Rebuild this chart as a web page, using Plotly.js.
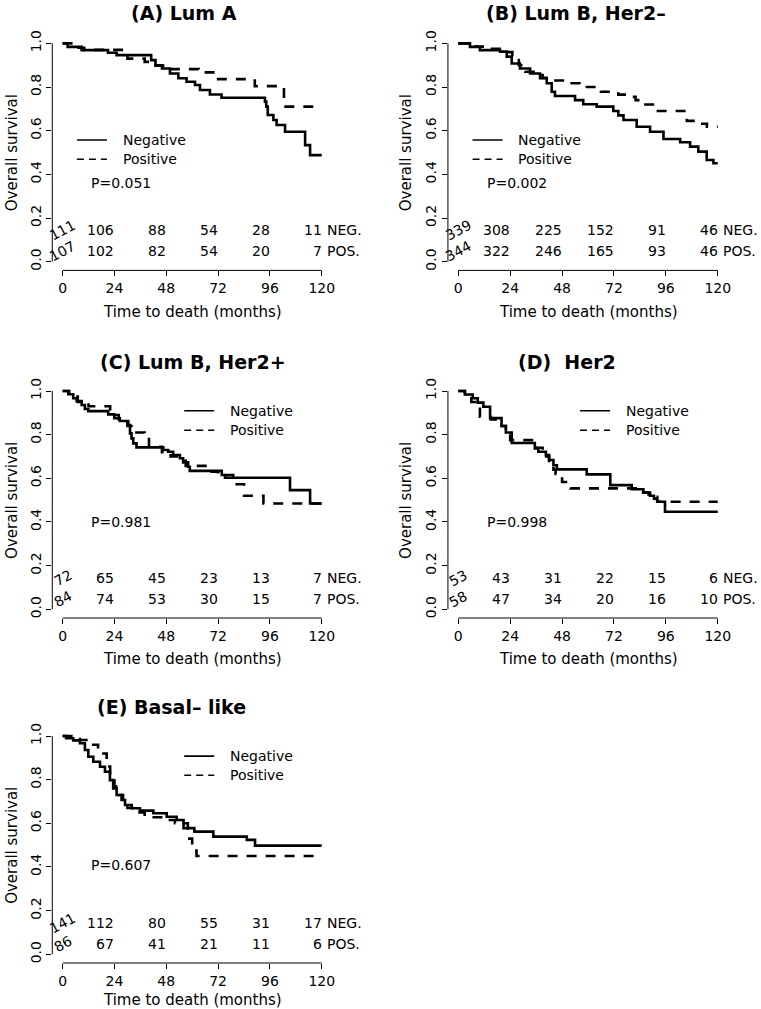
<!DOCTYPE html>
<html><head><meta charset="utf-8">
<script src="https://cdn.plot.ly/plotly-3.0.1.min.js"></script>
<style>body{margin:0;background:#fff}#chart{width:761px;height:1009px}</style>
</head><body><div id="chart"></div>
<script>
// ---------------- DATA ----------------
const riskTimes = [0, 24, 48, 72, 96, 120];
const xTickVals = [0, 24, 48, 72, 96, 120];
const yTickVals = [0, 0.2, 0.4, 0.6, 0.8, 1.0];
const yTickText = ["0.0", "0.2", "0.4", "0.6", "0.8", "1.0"];
const panelTitles = ["(A) Lum A", "(B) Lum B, Her2–", "(C) Lum B, Her2+", "(D)  Her2", "(E) Basal– like"];
const pValues = ["P=0.051", "P=0.002", "P=0.981", "P=0.998", "P=0.607"];
const seriesNames = ["Negative", "Positive"];
const riskLabels = ["NEG.", "POS."];
const xTitle = "Time to death (months)";
const yTitle = "Overall survival";

// (A) Lum A
const lumA_negT = [0, 2.3, 8.8, 21, 25, 41, 43, 46, 49.7, 53.6, 57.4, 61.3, 63.6, 68.2, 73.6, 93.7, 94.3, 95, 97.6, 99.1, 103, 112.3, 114.6, 120];
const lumA_negS = [1, 0.984, 0.969, 0.957, 0.946, 0.923, 0.90, 0.885, 0.862, 0.84, 0.824, 0.809, 0.786, 0.766, 0.751, 0.733, 0.71, 0.672, 0.649, 0.626, 0.595, 0.534, 0.488, 0.488];
const lumA_posT = [0, 4, 10, 28, 30, 38, 42, 50, 63, 71, 89, 102.5, 120];
const lumA_posS = [1, 0.98, 0.97, 0.95, 0.93, 0.915, 0.898, 0.882, 0.867, 0.836, 0.804, 0.71, 0.71];
const lumA_riskNeg = [111, 106, 88, 54, 28, 11];
const lumA_riskPos = [107, 102, 82, 54, 20, 7];

// (B) Lum B, Her2-
const lumBneg_negT = [0, 5.4, 10, 19.3, 22.4, 24.7, 28.5, 33.2, 37.8, 40.9, 43.2, 44.7, 54, 57.8, 64, 71.7, 74, 76.4, 82.5, 88.7, 94.9, 102.6, 107.2, 111, 114.9, 118, 120];
const lumBneg_negS = [1, 0.984, 0.969, 0.962, 0.939, 0.908, 0.885, 0.862, 0.84, 0.817, 0.778, 0.759, 0.740, 0.721, 0.71, 0.69, 0.67, 0.649, 0.618, 0.595, 0.562, 0.547, 0.527, 0.504, 0.466, 0.451, 0.451];
const lumBneg_posT = [0, 8, 15, 20, 25, 28, 31, 36, 39, 44, 49, 56, 66, 74, 78, 82, 85, 90, 105.7, 110, 115, 120];
const lumBneg_posS = [1, 0.985, 0.975, 0.96, 0.93, 0.9, 0.87, 0.855, 0.842, 0.83, 0.817, 0.80, 0.778, 0.765, 0.755, 0.74, 0.72, 0.69, 0.645, 0.632, 0.618, 0.618];
const lumBneg_riskNeg = [339, 308, 225, 152, 91, 46];
const lumBneg_riskPos = [344, 322, 246, 165, 93, 46];

// (C) Lum B, Her2+
const lumBpos_negT = [0, 2.6, 4.9, 6.5, 8.8, 10.3, 11.9, 21.1, 23.9, 26.5, 30.4, 31.2, 31.9, 32.7, 34.2, 46.6, 48.9, 51.2, 54.3, 55.8, 58.1, 58.9, 73.7, 75.2, 105.3, 114.6, 120];
const lumBpos_negS = [1, 0.985, 0.967, 0.954, 0.936, 0.918, 0.908, 0.893, 0.875, 0.863, 0.844, 0.806, 0.783, 0.76, 0.742, 0.730, 0.722, 0.707, 0.692, 0.673, 0.653, 0.634, 0.615, 0.603, 0.546, 0.485, 0.485];
const lumBpos_posT = [0, 3, 7, 12, 22, 26, 30, 33, 38, 40, 46, 50, 54, 57, 69, 72, 79, 84, 93, 120];
const lumBpos_posS = [1, 0.975, 0.95, 0.93, 0.89, 0.87, 0.84, 0.81, 0.78, 0.745, 0.72, 0.70, 0.68, 0.657, 0.63, 0.615, 0.573, 0.52, 0.485, 0.485];
const lumBpos_riskNeg = [72, 65, 45, 23, 13, 7];
const lumBpos_riskPos = [84, 74, 53, 30, 15, 7];

// (D) Her2
const her2_negT = [0, 3.1, 6.7, 9, 11.6, 14.7, 20, 22, 24.7, 35.4, 37, 40.5, 42, 44, 45.6, 59.4, 70.3, 80.2, 85.6, 88.7, 90.5, 92, 95.6, 120];
const her2_negS = [1, 0.984, 0.967, 0.947, 0.928, 0.876, 0.84, 0.81, 0.762, 0.737, 0.722, 0.707, 0.684, 0.66, 0.641, 0.618, 0.569, 0.55, 0.535, 0.52, 0.507, 0.493, 0.447, 0.447];
const her2_posT = [0, 3, 6, 10, 15, 20, 22, 24, 36, 39, 42, 44, 45, 48, 52, 84, 88, 92, 120];
const her2_posS = [1, 0.98, 0.95, 0.882, 0.87, 0.84, 0.81, 0.775, 0.74, 0.70, 0.66, 0.64, 0.62, 0.583, 0.554, 0.535, 0.515, 0.493, 0.493];
const her2_riskNeg = [53, 43, 31, 22, 15, 6];
const her2_riskPos = [58, 47, 34, 20, 16, 10];

// (E) Basal-like
const basal_negT = [0, 1.6, 4.9, 8, 10.3, 11.9, 14.2, 17.3, 19.6, 21.9, 23.4, 25, 27.3, 28.9, 32, 35.8, 42, 48.2, 52.8, 56, 61, 69.8, 85.3, 89.1, 120];
const basal_negS = [1, 0.99, 0.98, 0.967, 0.936, 0.905, 0.882, 0.859, 0.836, 0.798, 0.76, 0.73, 0.707, 0.684, 0.669, 0.658, 0.646, 0.630, 0.615, 0.578, 0.562, 0.539, 0.524, 0.498, 0.498];
const basal_posT = [0, 8, 13, 16.4, 20.4, 22, 24, 26, 28, 30, 33, 38, 48, 52, 58, 60, 62, 120];
const basal_posS = [1, 0.982, 0.96, 0.92, 0.86, 0.81, 0.77, 0.73, 0.70, 0.67, 0.65, 0.628, 0.615, 0.60, 0.53, 0.475, 0.45, 0.45];
const basal_riskNeg = [141, 112, 80, 55, 31, 17];
const basal_riskPos = [86, 67, 41, 21, 11, 6];

// ---------------- LAYOUT / STYLE ----------------
const FONT = "DejaVu Sans, Verdana, sans-serif";
const panelData = [
  {negT: lumA_negT, negS: lumA_negS, posT: lumA_posT, posS: lumA_posS, rN: lumA_riskNeg, rP: lumA_riskPos},
  {negT: lumBneg_negT, negS: lumBneg_negS, posT: lumBneg_posT, posS: lumBneg_posS, rN: lumBneg_riskNeg, rP: lumBneg_riskPos},
  {negT: lumBpos_negT, negS: lumBpos_negS, posT: lumBpos_posT, posS: lumBpos_posS, rN: lumBpos_riskNeg, rP: lumBpos_riskPos},
  {negT: her2_negT, negS: her2_negS, posT: her2_posT, posS: her2_posS, rN: her2_riskNeg, rP: her2_riskPos},
  {negT: basal_negT, negS: basal_negS, posT: basal_posT, posS: basal_posS, rN: basal_riskNeg, rP: basal_riskPos}
];
const L = [0.0687, 0.4364], R = [0.5886, 0.9568];
const geo = [
  {xd: L, yd: [0.7320, 0.9657], tx: 0.2414, ty: 0.9876, ylx: 0.0154, xly: 0.6908, pY: 0.36, legL: [6.6, 20.5, 26.9], legY: [0.557, 0.469]},
  {xd: R, yd: [0.7320, 0.9657], tx: 0.7573, ty: 0.9876, ylx: 0.5332, xly: 0.6908, pY: 0.36, legL: [6.6, 20.5, 26.9], legY: [0.557, 0.469]},
  {xd: L, yd: [0.3875, 0.6211], tx: 0.2536, ty: 0.6415, ylx: 0.0154, xly: 0.3469, pY: 0.40, legL: [56.3, 70.2, 76.7], legY: [0.91, 0.82]},
  {xd: R, yd: [0.3875, 0.6211], tx: 0.7447, ty: 0.6415, ylx: 0.5332, xly: 0.3469, pY: 0.40, legL: [56.3, 70.2, 76.7], legY: [0.91, 0.82]},
  {xd: L, yd: [0.0456, 0.2792], tx: 0.2256, ty: 0.2996, ylx: 0.0154, xly: 0.0089, pY: 0.41, legL: [56.3, 70.2, 76.7], legY: [0.908, 0.82]}
];
const CURVE_DASH = "10px,9px";
const LEG_DASH = "7px,5px";

const traces = [];
const annotations = [];
const shapes = [];
const layout = {
  width: 761, height: 1009,
  margin: {l: 0, r: 0, t: 0, b: 0},
  paper_bgcolor: "#ffffff", plot_bgcolor: "#ffffff",
  showlegend: false,
  font: {family: FONT, size: 14, color: "#000"}
};

panelData.forEach((d, i) => {
  const g = geo[i];
  const sfx = i === 0 ? "" : String(i + 1);
  const xa = "x" + sfx, ya = "y" + sfx;
  layout["xaxis" + sfx] = {
    domain: g.xd, anchor: ya, range: [-4.8, 124.8], fixedrange: true,
    tickvals: xTickVals, ticktext: xTickVals.map(String), ticks: "outside", ticklen: 5, tickwidth: 1, tickcolor: "#000",
    showline: false, showgrid: false, zeroline: false,
    tickfont: {family: FONT, size: 14, color: "#000"}
  };
  layout["yaxis" + sfx] = {
    domain: g.yd, anchor: xa, range: [-0.04, 1.04], fixedrange: true,
    tickvals: yTickVals, ticktext: yTickText, tickangle: -90, ticks: "outside", ticklen: 5, tickwidth: 1, tickcolor: "#000",
    showline: false, showgrid: false, zeroline: false,
    tickfont: {family: FONT, size: 14, color: "#000"}
  };
  // curves
  traces.push({x: d.negT, y: d.negS, xaxis: xa, yaxis: ya, type: "scatter", mode: "lines", name: seriesNames[0],
    line: {shape: "hv", color: "#000", width: 2.6}, hoverinfo: "skip"});
  traces.push({x: d.posT, y: d.posS, xaxis: xa, yaxis: ya, type: "scatter", mode: "lines", name: seriesNames[1],
    line: {shape: "hv", color: "#000", width: 2.6, dash: CURVE_DASH}, hoverinfo: "skip"});
  // R-style detached axis lines
  shapes.push({type: "line", xref: xa, yref: ya + " domain", x0: xTickVals[0], x1: xTickVals[xTickVals.length - 1], y0: 0, y1: 0, line: {color: "#000", width: 1}});
  shapes.push({type: "line", xref: xa + " domain", yref: ya, x0: 0, x1: 0, y0: yTickVals[0], y1: yTickVals[yTickVals.length - 1], line: {color: "#000", width: 1}});
  // legend
  shapes.push({type: "line", xref: xa, yref: ya, x0: g.legL[0], x1: g.legL[1], y0: g.legY[0], y1: g.legY[0], line: {color: "#000", width: 1.6}});
  shapes.push({type: "line", xref: xa, yref: ya, x0: g.legL[0], x1: g.legL[1], y0: g.legY[1], y1: g.legY[1], line: {color: "#000", width: 1.6, dash: LEG_DASH}});
  seriesNames.forEach((nm, k) => annotations.push({xref: xa, yref: ya, x: g.legL[2], y: g.legY[k], text: nm, showarrow: false,
    xanchor: "left", yanchor: "middle", font: {family: FONT, size: 14, color: "#000"}}));
  // p-value
  annotations.push({xref: xa, yref: ya, x: 27, y: g.pY, text: pValues[i], showarrow: false, xanchor: "center", yanchor: "middle",
    font: {family: FONT, size: 14, color: "#000"}});
  // at-risk table
  [d.rN, d.rP].forEach((row, k) => {
    const yy = k === 0 ? 0.145 : 0.048;
    row.forEach((v, j) => {
      if (j === 0) {
        annotations.push({xref: xa, yref: ya, x: riskTimes[j], y: yy, text: String(v), showarrow: false, textangle: -28,
          xanchor: "center", yanchor: "middle", font: {family: FONT, size: 14, color: "#000"}});
      } else {
        annotations.push({xref: xa, yref: ya, x: riskTimes[j], y: yy, text: String(v), showarrow: false,
          xanchor: "right", yanchor: "middle", xshift: 2, font: {family: FONT, size: 14, color: "#000"}});
      }
    });
    annotations.push({xref: xa, yref: ya, x: riskTimes[riskTimes.length - 1], y: yy, text: riskLabels[k], showarrow: false,
      xanchor: "left", yanchor: "middle", xshift: 3, font: {family: FONT, size: 14, color: "#000"}});
  });
  // titles
  annotations.push({xref: "paper", yref: "paper", x: g.tx, y: g.ty, text: panelTitles[i], showarrow: false,
    xanchor: "center", yanchor: "middle", font: {family: FONT, size: 19, color: "#000", weight: "bold"}});
  annotations.push({xref: "paper", yref: "paper", x: g.ylx, y: (g.yd[0] + g.yd[1]) / 2, text: yTitle, showarrow: false, textangle: -90,
    xanchor: "center", yanchor: "middle", font: {family: FONT, size: 15, color: "#000"}});
  annotations.push({xref: xa, yref: "paper", x: 60, y: g.xly, text: xTitle, showarrow: false,
    xanchor: "center", yanchor: "middle", font: {family: FONT, size: 15, color: "#000"}});
});
layout.annotations = annotations;
layout.shapes = shapes;
Plotly.newPlot("chart", traces, layout, {staticPlot: true, displayModeBar: false});
</script>
</body></html>
